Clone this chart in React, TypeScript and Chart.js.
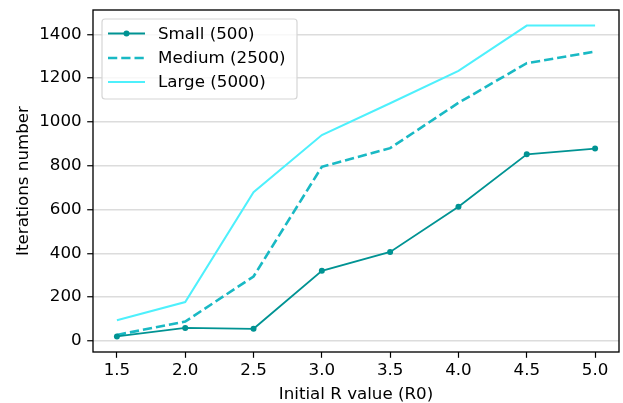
import React, { useEffect, useRef } from 'react';
import { Chart, registerables } from 'chart.js';

Chart.register(...registerables);

const rValues = [1.5, 2.0, 2.5, 3.0, 3.5, 4.0, 4.5, 5.0];
const smallIterations = [20, 59, 55, 320, 406, 612, 852, 878];
const mediumIterations = [27, 88, 294, 795, 880, 1087, 1268, 1321];
const largeIterations = [94, 177, 679, 940, 1085, 1233, 1440, 1440];
const seriesLabels = ['Small (500)', 'Medium (2500)', 'Large (5000)'];
const yTickValues = [0, 200, 400, 600, 800, 1000, 1200, 1400];
const xTickValues = [1.5, 2.0, 2.5, 3.0, 3.5, 4.0, 4.5, 5.0];

const FONT = '"DejaVu Sans", sans-serif';
const FS = 16.7;

const framePlugin = {
  id: 'frame',
  afterDatasetsDraw(chart: any) {
    const { ctx, chartArea } = chart;
    ctx.save();
    ctx.strokeStyle = '#000000';
    ctx.lineWidth = 1.33;
    ctx.strokeRect(chartArea.left, chartArea.top, chartArea.right - chartArea.left, chartArea.bottom - chartArea.top);
    ctx.restore();
  },
};

const legendPlugin = {
  id: 'mplLegend',
  afterDraw(chart: any) {
    const { ctx, chartArea } = chart;
    const x0 = chartArea.left + 9;
    const y0 = chartArea.top + 9;
    const w = 195;
    const h = 80;
    const r = 3;
    ctx.save();
    ctx.beginPath();
    ctx.moveTo(x0 + r, y0);
    ctx.lineTo(x0 + w - r, y0);
    ctx.arcTo(x0 + w, y0, x0 + w, y0 + r, r);
    ctx.lineTo(x0 + w, y0 + h - r);
    ctx.arcTo(x0 + w, y0 + h, x0 + w - r, y0 + h, r);
    ctx.lineTo(x0 + r, y0 + h);
    ctx.arcTo(x0, y0 + h, x0, y0 + h - r, r);
    ctx.lineTo(x0, y0 + r);
    ctx.arcTo(x0, y0, x0 + r, y0, r);
    ctx.closePath();
    ctx.fillStyle = 'rgba(255,255,255,0.8)';
    ctx.fill();
    ctx.strokeStyle = '#d6d6d6';
    ctx.lineWidth = 1.2;
    ctx.stroke();

    const rows = [33.5, 58, 82];
    chart.data.datasets.forEach((ds: any, i: number) => {
      const y = rows[i];
      ctx.beginPath();
      ctx.strokeStyle = ds.borderColor;
      ctx.lineWidth = ds.borderWidth;
      ctx.setLineDash(ds.borderDash || []);
      ctx.moveTo(x0 + 6, y);
      ctx.lineTo(x0 + 43, y);
      ctx.stroke();
      ctx.setLineDash([]);
      if (ds.pointRadius > 0) {
        ctx.beginPath();
        ctx.fillStyle = ds.borderColor;
        ctx.arc(x0 + 24.5, y, ds.pointRadius, 0, Math.PI * 2);
        ctx.fill();
      }
      ctx.fillStyle = '#000000';
      ctx.font = `${FS}px ${FONT}`;
      ctx.textBaseline = 'middle';
      ctx.textAlign = 'left';
      ctx.fillText(ds.label, x0 + 56, y + 1);
    });
    ctx.restore();
  },
};

export default function App() {
  const canvasRef = useRef<HTMLCanvasElement | null>(null);

  useEffect(() => {
    document.body.style.margin = '0';
    const canvas = canvasRef.current;
    if (!canvas) return;
    const toPoints = (arr: number[]) => rValues.map((x, i) => ({ x, y: arr[i] }));
    const chart = new Chart(canvas, {
      type: 'line',
      data: {
        datasets: [
          {
            label: seriesLabels[0],
            data: toPoints(smallIterations),
            borderColor: '#009393',
            backgroundColor: '#009393',
            borderWidth: 1.8,
            pointRadius: 3,
            pointHoverRadius: 3,
            pointBorderWidth: 0,
            tension: 0,
            fill: false,
          },
          {
            label: seriesLabels[1],
            data: toPoints(mediumIterations),
            borderColor: '#19b9c4',
            backgroundColor: '#19b9c4',
            borderWidth: 2.6,
            borderDash: [9.25, 4],
            pointRadius: 0,
            tension: 0,
            fill: false,
          },
          {
            label: seriesLabels[2],
            data: toPoints(largeIterations),
            borderColor: '#4ef0fc',
            backgroundColor: '#4ef0fc',
            borderWidth: 2,
            pointRadius: 0,
            tension: 0,
            fill: false,
          },
        ],
      },
      options: {
        responsive: false,
        animation: false,
        devicePixelRatio: 1,
        layout: { padding: { top: 10, right: 4, left: 0, bottom: 0 } },
        plugins: {
          legend: { display: false },
          tooltip: { enabled: false },
        },
        font: { family: FONT, size: FS },
        scales: {
          x: {
            type: 'linear',
            min: 1.325,
            max: 5.175,
            afterFit: (s: any) => {
              s.height = 51;
              s.paddingLeft = 0;
              s.paddingRight = 0;
            },
            afterBuildTicks: (s: any) => {
              s.ticks = xTickValues.map((v) => ({ value: v }));
            },
            ticks: {
              autoSkip: false,
              maxRotation: 0,
              padding: 3,
              color: '#000000',
              font: { family: FONT, size: FS },
              callback: (v: any) => Number(v).toFixed(1),
            },
            grid: {
              display: true,
              drawOnChartArea: false,
              drawTicks: true,
              tickLength: 5.8,
              tickColor: '#000000',
              tickWidth: 1.2,
            },
            border: { display: false },
            title: {
              display: true,
              text: 'Initial R value (R0)',
              color: '#000000',
              font: { family: FONT, size: FS, lineHeight: 1.0 },
              padding: { top: 0, bottom: 0 },
            },
          },
          y: {
            type: 'linear',
            min: -51,
            max: 1511,
            afterFit: (s: any) => {
              s.width = 93;
              s.paddingTop = 0;
              s.paddingBottom = 0;
            },
            afterBuildTicks: (s: any) => {
              s.ticks = yTickValues.map((v) => ({ value: v }));
            },
            ticks: {
              autoSkip: false,
              padding: 5.5,
              color: '#000000',
              font: { family: FONT, size: FS },
              callback: (v: any) => String(v),
            },
            grid: {
              display: true,
              drawOnChartArea: true,
              drawTicks: true,
              tickLength: 5.8,
              color: '#dcdcdc',
              lineWidth: 1.5,
              tickColor: '#000000',
              tickWidth: 1.2,
            },
            border: { display: false },
            title: {
              display: true,
              text: 'Iterations number',
              color: '#000000',
              font: { family: FONT, size: FS, lineHeight: 1.0 },
              padding: { top: 15, bottom: 0 },
            },
          },
        },
      } as any,
      plugins: [framePlugin, legendPlugin],
    });
    return () => {
      chart.destroy();
    };
  }, []);

  return (
    <div style={{ width: 623, height: 403 }}>
      <canvas ref={canvasRef} width={623} height={403} />
    </div>
  );
}
